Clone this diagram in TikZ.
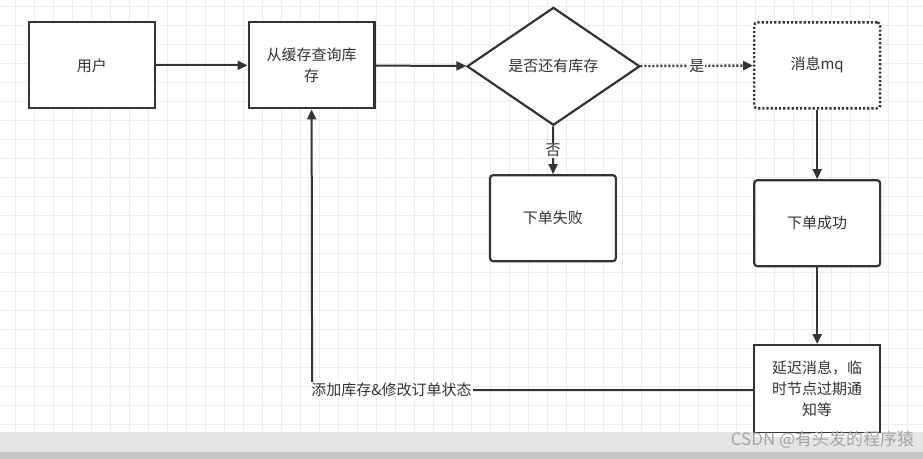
\documentclass[tikz,border=0pt]{standalone}
\usepackage{fontspec}
\setmainfont{Noto Sans CJK SC}
\usetikzlibrary{shapes.geometric,arrows.meta}
\definecolor{ln}{HTML}{333333}
\begin{document}
\begin{tikzpicture}[x=1pt,y=-1pt,
  box/.style={draw=ln,line width=2.2pt,fill=white,minimum width=126pt,minimum height=86pt,align=center,font=\fontsize{15}{21}\selectfont,text=ln},
  arr/.style={draw=ln,line width=2pt,-{Triangle[length=10pt,width=9pt]}},
  lbl/.style={fill=white,inner sep=1pt,font=\fontsize{15}{17}\selectfont,text=ln}]
\fill[white] (0,0) rectangle (923,459);
\foreach \x in {15,34,...,923} \draw[gray!15,line width=0.8pt] (\x,0) -- (\x,432);
\foreach \y in {6,25,...,432} \draw[gray!15,line width=0.8pt] (0,\y) -- (923,\y);
\fill[gray!20] (0,432) rectangle (923,459);
\fill[gray!45] (0,452) rectangle (923,459);
\node[box] (user) at (91.5,65) {用户};
\node[box] (cache) at (311.5,65) {从缓存查询库\\存};
\node[draw=ln,line width=2.2pt,fill=white,diamond,aspect=1.47,minimum width=173pt,minimum height=118pt,inner sep=0pt,font=\fontsize{15}{17}\selectfont,text=ln] (dia) at (553.5,66) {是否还有库存};
\node[box,rounded corners=3pt,dotted,line width=2.4pt] (mq) at (817.5,65) {消息mq};
\node[box,rounded corners=3pt] (fail) at (553,218) {下单失败};
\node[box,rounded corners=3pt] (succ) at (817.5,223) {下单成功};
\node[box,minimum height=88pt] (delay) at (817.5,389) {延迟消息，临\\时节点过期通\\知等};
\coordinate (corner) at (312,390);
\draw[arr] (user) -- (cache);
\draw[arr] (cache) -- (dia);
\draw[arr,dotted,line width=2.4pt] (dia) -- node[lbl]{是} (mq);
\draw[arr] (dia) -- node[lbl]{否} (fail);
\draw[arr] (mq) -- (succ);
\draw[arr] (succ) -- (delay);
\draw[arr] (delay.west |- corner) -- node[lbl,pos=0.82]{添加库存\&修改订单状态} (corner) -- (cache.south);
\fill[white] (755,433) rectangle (881,437);
\node[text=gray!70,font=\fontsize{17}{19}\selectfont,anchor=east] (wm) at (918,440) {CSDN @有头发的程序猿};
\end{tikzpicture}
\end{document}
